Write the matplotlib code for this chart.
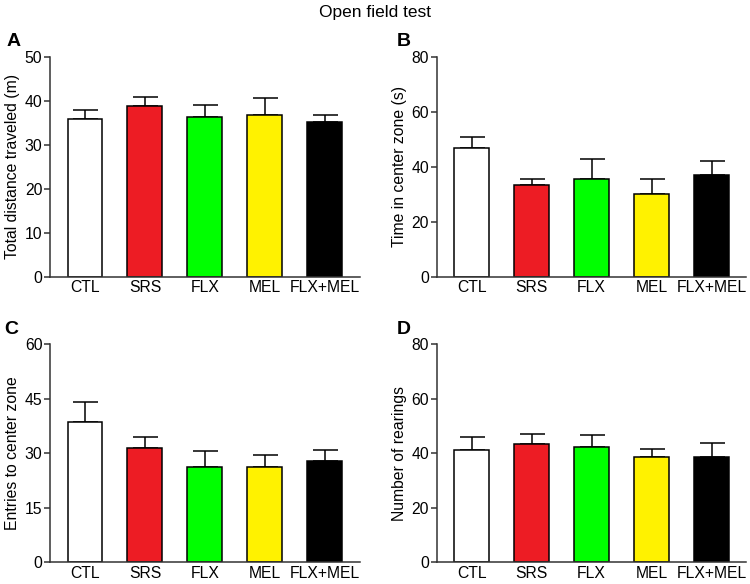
import matplotlib
matplotlib.use('Agg')
import matplotlib.pyplot as plt

plt.rcParams['font.family'] = ['Liberation Sans', 'DejaVu Sans']

# Data
groups = ['CTL', 'SRS', 'FLX', 'MEL', 'FLX+MEL']
colors = ['#FFFFFF', '#ED1C24', '#00FF00', '#FFF200', '#000000']

dist_mean = [35.8, 38.8, 36.4, 36.8, 35.2]
dist_err = [2.1, 2.1, 2.6, 3.7, 1.6]

time_mean = [46.9, 33.2, 35.4, 30.0, 37.1]
time_err = [4.0, 2.4, 7.4, 5.4, 5.1]

entries_mean = [38.6, 31.5, 26.3, 26.1, 27.9]
entries_err = [5.4, 2.9, 4.3, 3.5, 3.0]

rear_mean = [41.1, 43.5, 42.2, 38.5, 38.5]
rear_err = [4.7, 3.4, 4.6, 3.2, 5.1]

panels = [
    ('A', dist_mean, dist_err, 'Total distance traveled (m)', 50, [0, 10, 20, 30, 40, 50]),
    ('B', time_mean, time_err, 'Time in center zone (s)', 80, [0, 20, 40, 60, 80]),
    ('C', entries_mean, entries_err, 'Entries to center zone', 60, [0, 15, 30, 45, 60]),
    ('D', rear_mean, rear_err, 'Number of rearings', 80, [0, 20, 40, 60, 80]),
]

# axes rectangles in figure fractions (left, bottom, width, height)
rects = [
    (0.0667, 0.526, 0.413, 0.377),
    (0.5823, 0.526, 0.413, 0.377),
    (0.0667, 0.037, 0.413, 0.374),
    (0.5823, 0.037, 0.413, 0.374),
]
letter_x = [-0.118, -0.105, -0.126, -0.105]

fig = plt.figure(figsize=(7.5, 5.84), dpi=100)
fig.text(0.5, 0.979, 'Open field test', ha='center', va='center', fontsize=12.5)

x = list(range(len(groups)))
for (letter, mean, err, ylabel, ymax, ticks), rect, lx in zip(panels, rects, letter_x):
    ax = fig.add_axes(rect)
    ax.bar(x, mean, width=0.583, color=colors, edgecolor='black',
           linewidth=1.1, zorder=2)
    # upper error bars only
    ax.errorbar(x, mean, yerr=[[0] * len(err), err], fmt='none',
                ecolor='black', elinewidth=1.1, capsize=9, capthick=1.1, zorder=1)
    ax.set_xlim(-0.583, 4.583)
    ax.set_ylim(0, ymax)
    ax.set_yticks(ticks)
    ax.set_xticks(x)
    ax.set_xticklabels(groups)
    ax.tick_params(axis='x', length=0, pad=2.5, labelsize=11.3)
    ax.tick_params(axis='y', length=4, width=1.1, pad=1.5, labelsize=11.3,
                   color='#333333')
    for s in ['top', 'right']:
        ax.spines[s].set_visible(False)
    for s in ['left', 'bottom']:
        ax.spines[s].set_linewidth(1.1)
        ax.spines[s].set_color('#333333')
    ax.set_ylabel(ylabel, fontsize=11.3, labelpad=3)
    ax.text(lx, 1.067, letter, transform=ax.transAxes, fontsize=14,
            fontweight='bold', ha='center', va='center')

fig.savefig('out.png', dpi=100)
